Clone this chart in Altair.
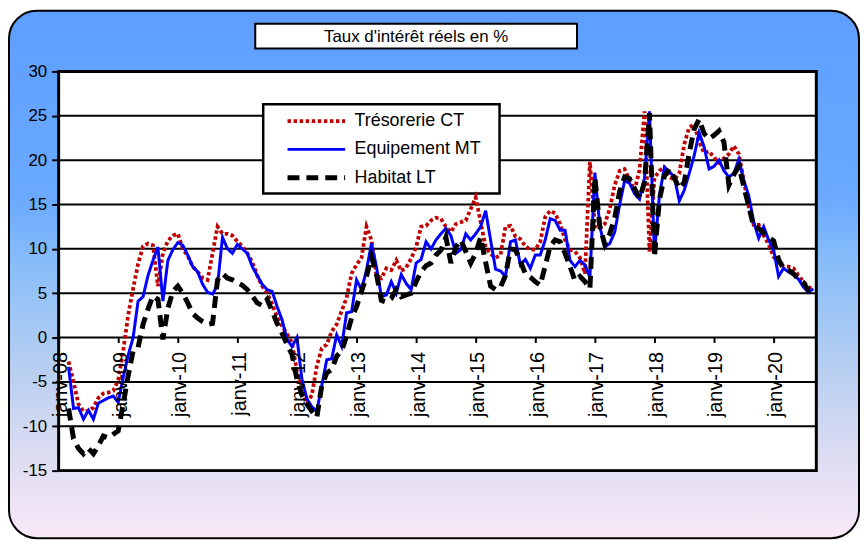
import altair as alt
import pandas as pd

FONT = "Liberation Sans"

# month index: 0 = janv-08 ; series start in March 2008 (index 2)
START_MONTH = 2

tresorerie_ct = [
    -2.7, -5.0, -7.5, -8.3, -8.3, -7.9, -6.8, -6.3, -6.2, -6.0, -4.8, -1.5, 2.5, 5.5, 8.3, 10.3, 10.6, 10.4,
    5.8, 9.5, 10.9, 11.5, 11.7, 10.0, 9.2, 8.0, 7.4, 6.7, 6.5, 9.5, 12.5, 11.7, 11.7, 11.5, 10.8, 10.3,
    9.5, 8.5, 7.0, 5.8, 5.0, 3.8, 2.3, 1.3, 0.4, -0.6, -3.8, -6.2, -7.4, -6.5, -3.2, -1.2, -0.8, 0.7,
    1.5, 3.0, 4.5, 7.2, 8.2, 9.0, 12.5, 11.0, 7.0, 6.7, 7.8, 7.6, 8.7, 7.5, 7.9, 8.9, 10.2, 12.5,
    12.6, 13.2, 13.5, 13.4, 12.5, 11.9, 12.8, 13.0, 13.2, 14.5, 15.8, 13.0, 10.2, 9.4, 9.0, 9.3, 12.5, 12.6,
    11.4, 11.1, 10.3, 9.9, 9.9, 10.8, 13.6, 14.3, 14.0, 12.8, 11.0, 9.9, 9.7, 9.0, 7.2, 19.8, 12.5, 12.3,
    12.8, 14.5, 17.2, 18.8, 19.0, 17.7, 16.6, 18.9, 25.5, 9.7, 18.0, 18.8, 19.2, 18.1, 17.8, 18.5, 21.8, 23.7,
    24.0, 22.1, 20.8, 21.0, 20.3, 19.7, 20.2, 20.7, 21.6, 20.7, 17.7, 14.7, 12.7, 12.7, 11.5, 10.5, 9.1, 8.4,
    8.0, 8.0, 7.8, 7.0, 6.3, 5.7, 5.4,
]

equipement_mt = [
    -3.3, -8.0, -7.9, -9.2, -8.2, -9.2, -7.4, -7.1, -6.8, -6.6, -7.3, -4.5, -2.0, 0.0, 4.1, 4.6, 7.0, 8.7,
    10.2, 4.1, 8.7, 9.9, 10.7, 10.4, 9.3, 8.0, 7.4, 6.0, 5.1, 4.9, 5.9, 11.3, 10.0, 9.5, 10.5, 10.0,
    9.5, 8.0, 7.0, 6.0, 5.4, 5.2, 3.5, 2.0, -0.2, -1.0, 0.0, -4.7, -6.9, -7.8, -8.3, -5.4, -2.5, -2.4,
    0.3, -1.0, 2.8, 2.9, 6.5, 5.4, 7.6, 10.6, 8.0, 4.6, 4.8, 6.3, 5.0, 7.1, 6.1, 5.4, 8.4, 8.8,
    10.8, 10.0, 11.0, 11.7, 12.3, 11.5, 9.5, 9.9, 11.7, 11.0, 11.7, 12.5, 14.3, 11.0, 7.7, 7.5, 6.9, 10.8,
    11.0, 8.2, 8.8, 7.8, 9.3, 9.3, 11.0, 13.4, 13.2, 12.1, 12.1, 8.7, 8.0, 8.7, 8.2, 6.8, 18.6, 12.5,
    10.2, 10.6, 11.9, 15.0, 17.7, 17.4, 16.2, 15.6, 18.0, 25.5, 9.5, 16.0, 19.2, 18.7, 18.1, 15.4, 16.6, 18.5,
    20.5, 23.1, 21.5, 19.0, 19.3, 20.0, 18.8, 18.1, 18.5, 20.1, 17.7, 16.0, 13.0, 11.2, 12.5, 11.0, 9.9, 6.9,
    7.8, 7.4, 7.1, 6.6, 5.7, 5.1, 5.5,
]

habitat_lt = [
    -8.0, -11.4, -12.5, -13.1, -12.5, -13.1, -12.2, -11.1, -11.3, -10.9, -10.5, -7.5, -4.3, -1.5, -1.1, 1.5, 3.2, 4.7,
    4.3, -0.2, 3.3, 5.2, 5.8, 5.0, 3.9, 2.7, 2.2, 1.8, 1.5, 1.6, 6.5, 7.2, 6.7, 6.5, 6.2, 5.9,
    5.4, 4.7, 3.9, 3.6, 4.3, 3.0, 1.6, 0.5, -0.8, -1.9, -4.7, -6.5, -7.5, -8.3, -9.0, -5.4, -4.0, -3.6,
    -2.1, -1.5, 0.2, 2.2, 3.5, 5.2, 6.9, 9.1, 7.2, 4.2, 4.0, 4.4, 5.4, 4.6, 4.8, 5.0, 6.3, 7.4,
    8.1, 8.4, 9.3, 9.85, 11.3, 8.4, 10.2, 11.0, 9.7, 8.4, 9.5, 11.3, 8.5, 5.8, 5.4, 5.7, 7.0, 10.0,
    9.9, 8.6, 7.2, 6.8, 6.3, 5.9, 8.1, 10.3, 11.0, 10.8, 9.5, 8.0, 6.4, 6.9, 6.3, 5.5, 18.1, 12.5,
    10.5, 11.7, 13.5, 16.5, 18.1, 17.9, 16.8, 15.7, 17.5, 25.3, 9.1, 15.5, 18.2, 19.0, 18.0, 16.8, 17.5, 20.8,
    23.5, 24.6, 23.0, 22.4, 22.8, 23.3, 22.0, 17.2, 18.4, 19.3, 17.0, 14.8, 12.5, 12.3, 11.8, 11.3, 10.9, 8.8,
    7.8, 7.6, 7.2, 6.6, 6.2, 5.3, 5.7,
]

series_names = ["Trésorerie CT", "Equipement MT", "Habitat LT"]
series_colors = ["#C00000", "#0000FF", "#000000"]
series_dash = [[3.5, 2.6], [1, 0], [12, 7]]
series_width = [3.8, 3.0, 5.0]

year_ticks = list(range(0, 145, 12))
y_ticks = [-15, -10, -5, 0, 5, 10, 15, 20, 25, 30]
chart_title = "Taux d'intérêt réels en %"

rows = []
for name, vals in zip(series_names, [tresorerie_ct, equipement_mt, habitat_lt]):
    for i, v in enumerate(vals):
        rows.append({"serie": name, "mois": START_MONTH + i, "taux": v})
df = pd.DataFrame(rows)

W, H = 763, 402
PAD = {"left": 51, "top": 62, "right": 44, "bottom": 69}
one = pd.DataFrame({"k": [0]})

yscale = alt.Scale(domain=[-15, 30], nice=False, zero=False)
yaxis = alt.Axis(values=y_ticks, labelExpr="datum.value + ''", title=None, domain=False, grid=False,
                 tickSize=7, tickWidth=2, tickColor="black", labelFont=FONT, labelFontSize=17,
                 labelColor="black", labelPadding=5, zindex=1)
xaxis = alt.Axis(values=year_ticks,
                 labelExpr="'janv-' + (datum.value/12 + 8 < 10 ? '0' : '') + (datum.value/12 + 8)",
                 title=None, domain=False, grid=False, tickSize=5, tickWidth=2, tickColor="black",
                 labelAngle=270, labelAlign="right", labelBaseline="middle", labelFont=FONT,
                 labelFontSize=20, labelColor="black", labelPadding=9, offset=-134, zindex=1,
                 labelOverlap=False, labelFlush=False, labelOffset=2)

grad = alt.LinearGradient(
    gradient="linear",
    stops=[
        alt.GradientStop(color="#5E9EFF", offset=0),
        alt.GradientStop(color="#6AA9FF", offset=0.35),
        alt.GradientStop(color="#8DC0F8", offset=0.5),
        alt.GradientStop(color="#BCD0F0", offset=0.7),
        alt.GradientStop(color="#DEDDF2", offset=0.85),
        alt.GradientStop(color="#F9E8F8", offset=1),
    ],
    x1=0, x2=0, y1=0, y2=1,
)

frame = alt.Chart(one).mark_rect(fill=grad, stroke="black", strokeWidth=2, cornerRadius=28).encode(
    x=alt.value(-PAD["left"] + 1), x2=alt.value(W + PAD["right"] - 1),
    y=alt.value(-PAD["top"] + 1), y2=alt.value(H + PAD["bottom"] - 1))

plotbg = alt.Chart(one).mark_rect(fill="white", stroke="black", strokeWidth=3).encode(
    x=alt.value(0), x2=alt.value(W), y=alt.value(0), y2=alt.value(H))

grid = alt.Chart(pd.DataFrame({"g": y_ticks})).mark_rule(color="black", strokeWidth=2).encode(
    y=alt.Y("g:Q", scale=yscale, axis=yaxis))

tbox = alt.Chart(one).mark_rect(fill="white", stroke="black", strokeWidth=2).encode(
    x=alt.value(198), x2=alt.value(522), y=alt.value(-48), y2=alt.value(-23))
ttext = alt.Chart(one).mark_text(text=chart_title, font=FONT, fontSize=17, color="black",
                                 align="center", baseline="middle").encode(
    x=alt.value(360), y=alt.value(-35))

lbox = alt.Chart(one).mark_rect(fill="white", stroke="black", strokeWidth=2.5).encode(
    x=alt.value(206), x2=alt.value(444), y=alt.value(33), y2=alt.value(123))

legend = alt.Legend(title=None, orient="none", legendX=228, legendY=36, symbolType="stroke",
                    symbolSize=3364, clipHeight=28, rowPadding=0.5, labelFont=FONT,
                    labelFontSize=18, labelColor="black", labelOffset=7, padding=0)

lines = alt.Chart(df).mark_line().encode(
    x=alt.X("mois:Q", scale=alt.Scale(domain=[0, 152.6], nice=False, zero=False), axis=xaxis),
    y=alt.Y("taux:Q", scale=yscale, axis=yaxis),
    color=alt.Color("serie:N", scale=alt.Scale(domain=series_names, range=series_colors), legend=legend),
    strokeDash=alt.StrokeDash("serie:N", scale=alt.Scale(type="ordinal", domain=series_names, range=series_dash), legend=legend),
    strokeWidth=alt.StrokeWidth("serie:N", scale=alt.Scale(type="ordinal", domain=series_names, range=series_width), legend=legend),
)

chart = alt.layer(frame, plotbg, grid, tbox, ttext, lbox, lines).properties(
    width=W, height=H, padding=PAD, autosize=alt.AutoSizeParams(type="none")
).configure_view(stroke=None)

chart.save("out.html", embed_options={"renderer": "svg", "actions": False})
